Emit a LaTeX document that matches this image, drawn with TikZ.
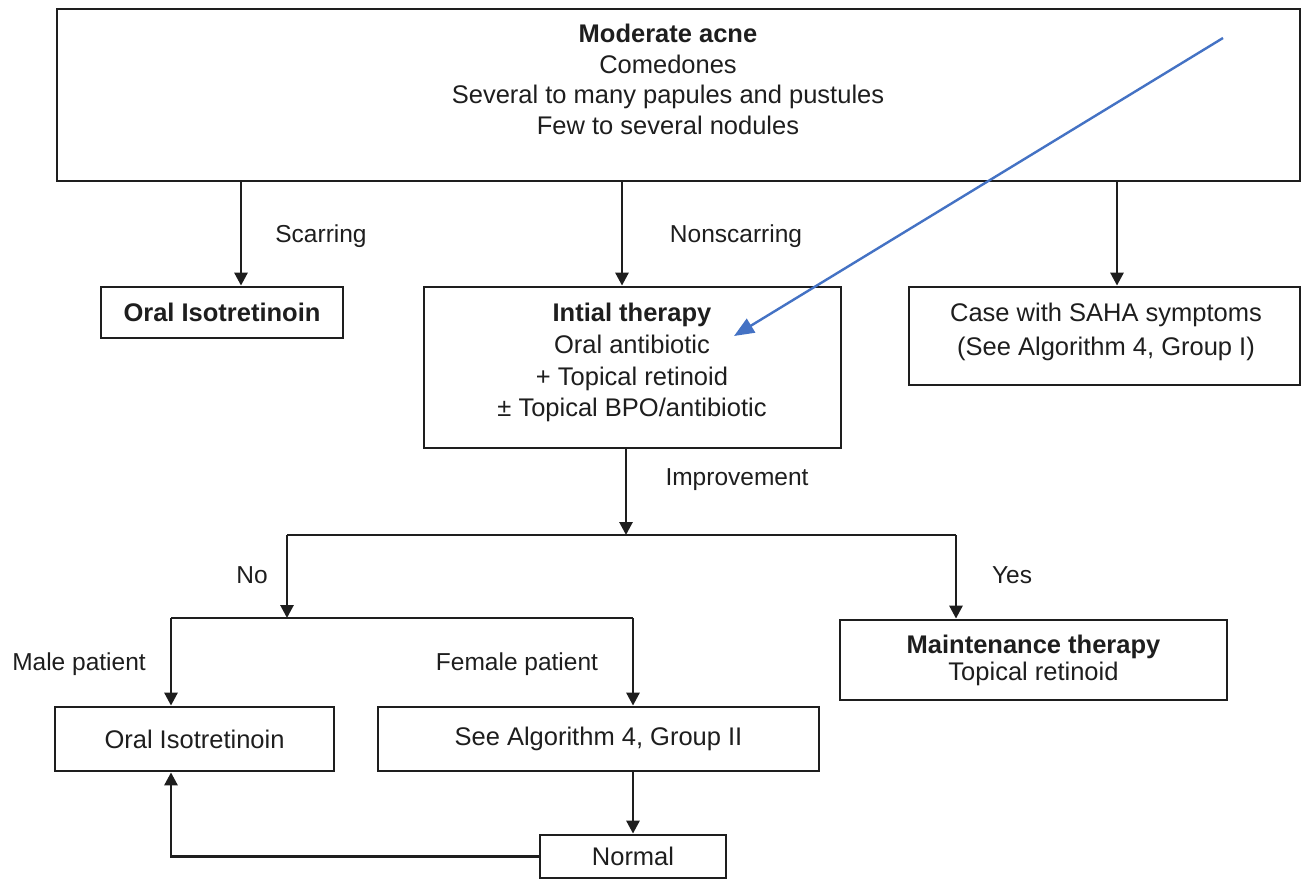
\documentclass[tikz,border=0pt]{standalone}
\usepackage{fontspec}
\setmainfont{Liberation Sans}
\usetikzlibrary{arrows.meta}
\definecolor{bluearrow}{RGB}{68,114,196}
\definecolor{ink}{RGB}{30,30,30}
\begin{document}
\begin{tikzpicture}[x=1pt,y=-1pt,
  box/.style={draw=ink, line width=2.8pt, inner sep=0pt, align=center, text=ink,
    font=\fontsize{25.5}{30}\selectfont},
  txt/.style={inner sep=0pt, align=center, text=ink, font=\fontsize{25.5}{30}\selectfont},
  lbl/.style={inner sep=0pt, text=ink, font=\fontsize{24.5}{28}\selectfont},
  conn/.style={draw=ink, line width=2.8pt},
  arr/.style={conn, -{Triangle[length=13pt,width=13pt]}},
  barr/.style={draw=bluearrow, line width=2.4pt, -{Triangle[length=20pt,width=16pt]}}]
\useasboundingbox (0,0) rectangle (1304,880);
\clip (0,0) rectangle (1304,880);
\fill[white] (0,0) rectangle (1304,880);

% boxes
\node[box, minimum width=1243pt, minimum height=172pt] (top) at (678.5,95) {};
\node[txt, anchor=north, font=\fontsize{25.5}{30.5}\selectfont] (topt) at (668,24)
  {\textbf{Moderate acne}\\Comedones\\Several to many papules and pustules\\Few to several nodules};

\node[box, minimum width=242pt, minimum height=51pt] (oi1) at (222,312.5) {\textbf{Oral Isotretinoin}};

\node[box, minimum width=417pt, minimum height=161pt] (init) at (632.5,367.5) {};
\node[txt, anchor=north, font=\fontsize{25.5}{31.7}\selectfont] (initt) at (632,303)
  {\textbf{Intial therapy}\\Oral antibiotic\\+ Topical retinoid\\± Topical BPO/antibiotic};

\node[box, minimum width=391pt, minimum height=98pt] (saha) at (1104.5,336) {};
\node[txt, anchor=north, font=\fontsize{25.5}{34}\selectfont] (sahat) at (1106,303)
  {Case with SAHA symptoms\\(See Algorithm 4, Group I)};

\node[box, minimum width=387pt, minimum height=80pt, font=\fontsize{25.5}{27}\selectfont] (maint) at (1033.5,660)
  {\textbf{Maintenance therapy}\\Topical retinoid};

\node[box, minimum width=279pt, minimum height=64pt] (oi2) at (194.5,739) {Oral Isotretinoin};
\node[box, minimum width=441pt, minimum height=64pt] (alg) at (598.5,739) {See Algorithm 4, Group II};
\node[box, minimum width=186pt, minimum height=43pt] (normal) at (633,856.5) {Normal};

% guide coordinates
\coordinate (cL) at (241,0);
\coordinate (cM) at (622,0);
\coordinate (cR) at (1117,0);
\coordinate (cI) at (626,0);
\coordinate (cNo) at (287,0);
\coordinate (cYes) at (956,0);
\coordinate (cMale) at (171,0);
\coordinate (cFem) at (633,0);
\coordinate (j1) at (626,535);
\coordinate (j2) at (287,618);

% connectors
\draw[arr] (top.south -| cL) -- (oi1.north -| cL);
\draw[arr] (top.south -| cM) -- (init.north -| cM);
\draw[arr] (top.south -| cR) -- (saha.north -| cR);
\draw[arr] (init.south -| cI) -- (j1);
\draw[conn] (j1 -| cNo) -- (j1 -| cYes);
\draw[arr] (j1 -| cNo) -- (j2);
\draw[arr] (j1 -| cYes) -- (maint.north -| cYes);
\draw[conn] (j2 -| cMale) -- (j2 -| cFem);
\draw[arr] (j2 -| cMale) -- (oi2.north -| cMale);
\draw[arr] (j2 -| cFem) -- (alg.north -| cFem);
\draw[arr] (alg.south -| cFem) -- (normal.north -| cFem);
\draw[arr] (normal.west) -| (oi2.south -| cMale);

% labels
\node[lbl] (lscar) at (321,236) {Scarring};
\node[lbl] (lnonscar) at (736,236) {Nonscarring};
\node[lbl] (limpr) at (737,480) {Improvement};
\node[lbl] (lno) at (252,575) {No};
\node[lbl] (lyes) at (1012,575) {Yes};
\node[lbl] (lmale) at (79,664) {Male patient};
\node[lbl] (lfem) at (517,664) {Female patient};

% blue annotation arrow
\coordinate (bstart) at (1223,38);
\coordinate (bend) at (734,336);
\draw[barr] (bstart) -- (bend);
\end{tikzpicture}
\end{document}
